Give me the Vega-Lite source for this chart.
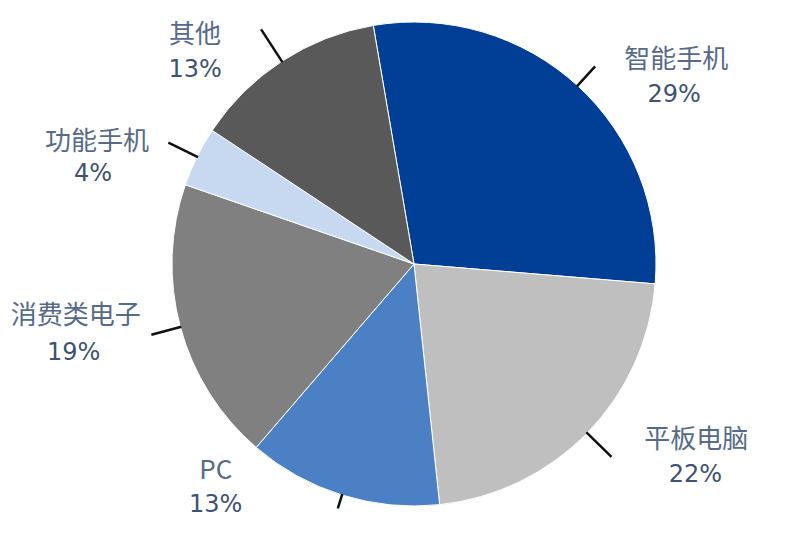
{
  "$schema": "https://vega.github.io/schema/vega-lite/v6.json",
  "width": 768,
  "height": 528,
  "autosize": "none",
  "padding": {"left": 30, "top": 0, "right": 2, "bottom": 15},
  "background": "white",
  "config": {"view": {"stroke": null}},
  "data": {
    "values": [
      {"idx": 1, "cat": "智能手机", "value": 29, "pct": "29%"},
      {"idx": 2, "cat": "平板电脑", "value": 22, "pct": "22%"},
      {"idx": 3, "cat": "PC", "value": 13, "pct": "13%"},
      {"idx": 4, "cat": "消费类电子", "value": 19, "pct": "19%"},
      {"idx": 5, "cat": "功能手机", "value": 4, "pct": "4%"},
      {"idx": 6, "cat": "其他", "value": 13, "pct": "13%"}
    ]
  },
  "encoding": {
    "theta": {"field": "value", "type": "quantitative", "stack": true, "scale": {"range": [-0.169, 6.114]}},
    "order": {"field": "idx", "type": "quantitative"},
    "detail": {"field": "cat", "type": "nominal"}
  },
  "layer": [
    {
      "mark": {"type": "arc", "outerRadius": 242, "stroke": "white", "strokeWidth": 1},
      "encoding": {
        "color": {
          "field": "cat", "type": "nominal", "legend": null,
          "scale": {
            "domain": ["智能手机", "平板电脑", "PC", "消费类电子", "功能手机", "其他"],
            "range": ["#013E96", "#BFBFBF", "#4C80C4", "#808080", "#C6D9F0", "#595959"]
          }
        }
      }
    },
    {
      "mark": {
        "type": "arc",
        "innerRadius": 241,
        "outerRadius": {"expr": "{'智能手机': 268, '平板电脑': 276, 'PC': 256, '消费类电子': 272, '功能手机': 274, '其他': 280}[datum.cat]"},
        "padAngle": 3,
        "fill": null,
        "fillOpacity": 0,
        "stroke": "#111111",
        "strokeWidth": 2.5
      }
    },
    {
      "mark": {
        "type": "text",
        "radius": 280,
        "font": "Noto Sans CJK SC",
        "fontSize": 26,
        "fill": "#566A89",
        "align": "center",
        "baseline": "middle",
        "dx": {"expr": "{'智能手机': 73, '平板电脑': 82, 'PC': -115, '消费类电子': -68, '功能手机': -66, '其他': -66}[datum.cat]"},
        "dy": {"expr": "{'智能手机': 2, '平板电脑': -20, 'PC': -60, '消费类电子': -21, '功能手机': 2, '其他': 6}[datum.cat]"}
      },
      "encoding": {"text": {"field": "cat", "type": "nominal"}}
    },
    {
      "mark": {
        "type": "text",
        "radius": 280,
        "font": "DejaVu Sans",
        "fontSize": 24,
        "fill": "#3D5273",
        "align": "center",
        "baseline": "middle",
        "dx": {"expr": "{'智能手机': 71, '平板电脑': 81, 'PC': -115, '消费类电子': -70, '功能手机': -70, '其他': -66}[datum.cat]"},
        "dy": {"expr": "{'智能手机': 37, '平板电脑': 15, 'PC': -26, '消费类电子': 16, '功能手机': 34, '其他': 41}[datum.cat]"}
      },
      "encoding": {"text": {"field": "pct", "type": "nominal"}}
    }
  ]
}
